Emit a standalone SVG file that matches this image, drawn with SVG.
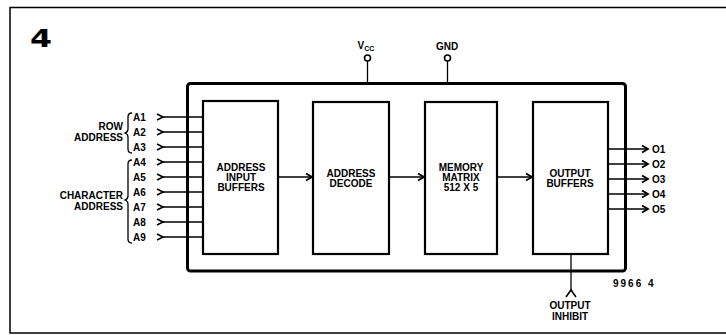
<svg xmlns="http://www.w3.org/2000/svg" width="726" height="335" viewBox="0 0 726 335">
<style>
text{font-family:"Liberation Sans",Arial,sans-serif;font-weight:bold;font-size:10px;fill:#000}
.c{text-anchor:middle}
.e{text-anchor:end}
.big{font-size:24px;font-family:"DejaVu Sans",sans-serif;font-weight:bold}
.blk{fill:#fff;stroke:#000;stroke-width:2.2}
.w{fill:none;stroke:#000;stroke-width:1.3}
.ch{fill:none;stroke:#000;stroke-width:1.6}
</style>
<defs>
<marker id="arr" markerWidth="10" markerHeight="10" refX="7" refY="4" orient="auto" markerUnits="userSpaceOnUse">
<path d="M1,0.5 L7,4 L1,7.5" fill="none" stroke="#000" stroke-width="1.8"/>
</marker>
</defs>
<rect width="726" height="335" fill="#fff"/>
<rect x="10" y="7.5" width="730" height="325.5" fill="none" stroke="#000" stroke-width="1.5"/>
<text class="big" x="30" y="47" textLength="22" lengthAdjust="spacingAndGlyphs">4</text>

<g id="chip">
<rect x="187.5" y="83.5" width="438" height="187.5" rx="3" fill="none" stroke="#000" stroke-width="3"/>
</g>

<g id="connectors">
<path class="w" d="M163,117H203M163,132H203M163,147H203M163,162H203M163,177H203M163,192H203M163,207H203M163,222H203M163,237H203"/>
<path class="ch" d="M157,114L163,117L157,120M157,129L163,132L157,135M157,144L163,147L157,150M157,159L163,162L157,165M157,174L163,177L157,180M157,189L163,192L157,195M157,204L163,207L157,210M157,219L163,222L157,225M157,234L163,237L157,240"/>
<path class="w" d="M132,113Q128,113 128,117V129Q128,132 125,133Q128,134 128,137V149Q128,153 132,153"/>
<path class="w" d="M132,160Q128,160 128,164V196Q128,199 125,200Q128,201 128,204V239Q128,243 132,243"/>
<line class="w" x1="278" y1="177" x2="312" y2="177" marker-end="url(#arr)"/>
<line class="w" x1="389" y1="177" x2="424" y2="177" marker-end="url(#arr)"/>
<line class="w" x1="497" y1="177" x2="532" y2="177" marker-end="url(#arr)"/>
<line class="w" x1="608" y1="149" x2="648" y2="149" marker-end="url(#arr)"/>
<line class="w" x1="608" y1="164" x2="648" y2="164" marker-end="url(#arr)"/>
<line class="w" x1="608" y1="179" x2="648" y2="179" marker-end="url(#arr)"/>
<line class="w" x1="608" y1="194" x2="648" y2="194" marker-end="url(#arr)"/>
<line class="w" x1="608" y1="209" x2="648" y2="209" marker-end="url(#arr)"/>
<line class="w" x1="367.5" y1="61" x2="367.5" y2="83"/>
<circle cx="367.5" cy="58" r="3" fill="#fff" stroke="#000" stroke-width="1.6"/>
<line class="w" x1="447.5" y1="61" x2="447.5" y2="83"/>
<circle cx="447.5" cy="58" r="3" fill="#fff" stroke="#000" stroke-width="1.6"/>
<line class="w" x1="571" y1="254" x2="571" y2="290"/>
<path class="ch" d="M566,297L571,290L576,297"/>
</g>

<g id="block1">
<rect class="blk" x="203" y="101" width="75" height="153"/>
<text class="c" x="241" y="171">ADDRESS</text>
<text class="c" x="241" y="181">INPUT</text>
<text class="c" x="241" y="191">BUFFERS</text>
</g>
<g id="block2">
<rect class="blk" x="313" y="102" width="76" height="152"/>
<text class="c" x="351" y="177">ADDRESS</text>
<text class="c" x="351" y="187">DECODE</text>
</g>
<g id="block3">
<rect class="blk" x="425" y="102" width="72" height="152"/>
<text class="c" x="461" y="171">MEMORY</text>
<text class="c" x="461" y="181">MATRIX</text>
<text class="c" x="461" y="191">512 X 5</text>
</g>
<g id="block4">
<rect class="blk" x="533" y="102" width="75" height="152"/>
<text class="c" x="570" y="177">OUTPUT</text>
<text class="c" x="570" y="187">BUFFERS</text>
</g>

<g id="labels">
<text x="366" y="49" class="c">V<tspan font-size="7" dy="1.5">CC</tspan></text>
<text x="447" y="50" class="c">GND</text>
<text class="e" x="123" y="130">ROW</text>
<text class="e" x="123" y="141">ADDRESS</text>
<text class="e" x="123" y="199">CHARACTER</text>
<text class="e" x="123" y="210">ADDRESS</text>
<text x="133" y="121">A1</text>
<text x="133" y="136">A2</text>
<text x="133" y="151">A3</text>
<text x="133" y="166">A4</text>
<text x="133" y="181">A5</text>
<text x="133" y="196">A6</text>
<text x="133" y="211">A7</text>
<text x="133" y="226">A8</text>
<text x="133" y="241">A9</text>
<text x="652" y="153">O1</text>
<text x="652" y="168">O2</text>
<text x="652" y="183">O3</text>
<text x="652" y="198">O4</text>
<text x="652" y="213">O5</text>
<text class="c" x="570" y="309">OUTPUT</text>
<text class="c" x="570" y="320">INHIBIT</text>
<text x="613" y="287" letter-spacing="2">9966 4</text>
</g>
</svg>
